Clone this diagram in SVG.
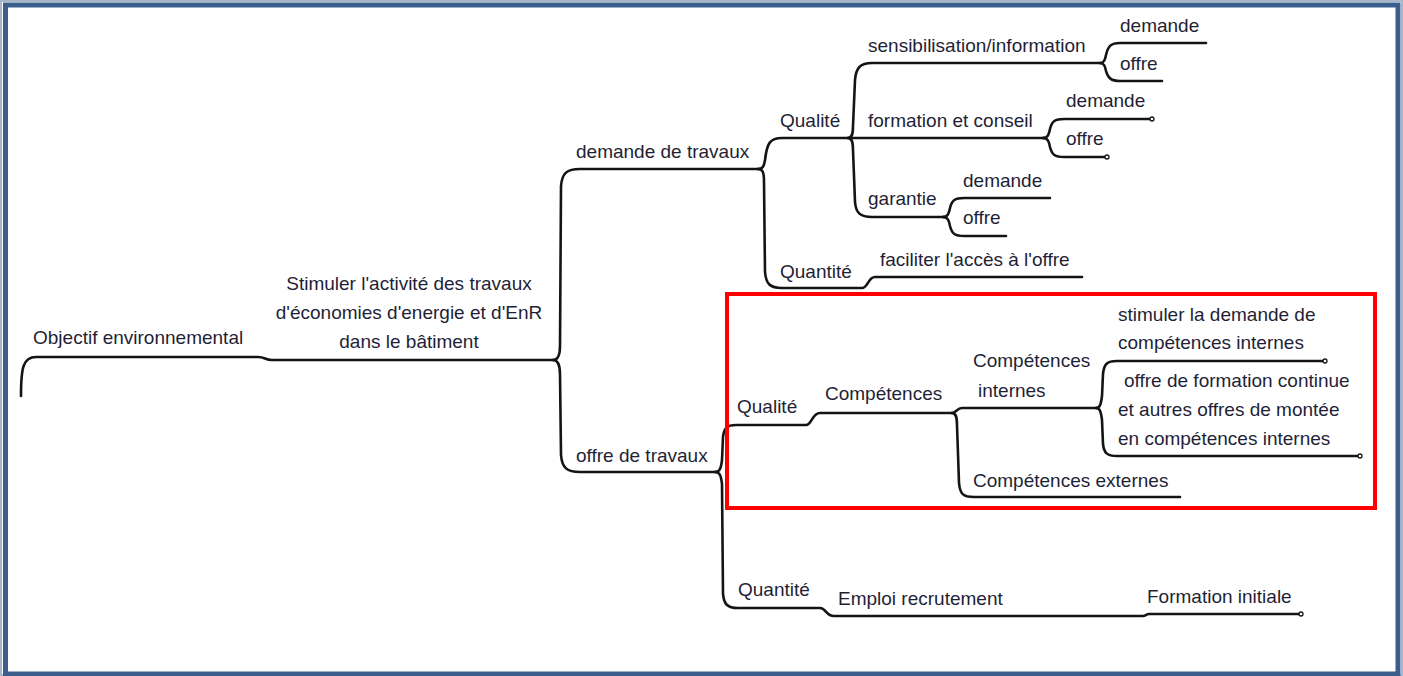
<svg xmlns="http://www.w3.org/2000/svg" width="1403" height="676" viewBox="0 0 1403 676">
<style>
.t{font-family:"Liberation Sans",Arial,sans-serif;font-size:19px;fill:#1f1f36}
.ln{fill:none;stroke:#141414;stroke-width:2.6;stroke-linecap:round;stroke-linejoin:round}
.end{fill:#fff;stroke:#141414;stroke-width:1.3}
</style>
<rect x="0" y="0" width="1403" height="676" fill="#ffffff"/>
<rect x="1" y="1" width="1401" height="674" fill="none" stroke="#a8b6ca" stroke-width="2"/>
<rect x="5.5" y="5" width="1392.5" height="669" fill="none" stroke="#3b5e8c" stroke-width="5"/>

<g id="connectors">
<path class="ln" d="M21,396 C21,368 23,357 36,357 L258,357 C265,357 265,360 272,360 L553,360"/>
<path class="ln" d="M553,360 C558,360 560,356 560,346 L561,186 C562,173 567,169 580,169 L760,169"/>
<path class="ln" d="M553,360 C558,360 560,364 560,374 L561,455 C562,468 567,472 580,472 L717,472"/>
<path class="ln" d="M758,169 C763,169 764,166 765,160 C767,143 770,138 782,138 L848,138"/>
<path class="ln" d="M758,169 C763,169 764,173 764,182 L765,272 C766,284 770,288 782,288 L862,288 C868,288 868,277 875,277 L1082,277"/>
<path class="ln" d="M848,138 C852,138 853,134 853,126 L855,80 C856,68 860,63 872,63 L1100,63"/>
<path class="ln" d="M848,138 L1045,138"/>
<path class="ln" d="M848,138 C852,138 853,142 853,150 L855,202 C856,213 860,217 872,217 L945,217"/>
<path class="ln" d="M1100,63 C1104,63 1105,60 1106,55 C1108,46 1111,43 1120,43 L1206,43"/>
<path class="ln" d="M1100,63 C1104,63 1105,66 1106,71 C1108,78 1111,81 1120,81 L1162,81"/>
<path class="ln" d="M1043,138 C1048,138 1049,134 1050,129 C1052,121 1055,119 1064,119 L1150,119"/>
<path class="ln" d="M1043,138 C1048,138 1049,142 1050,147 C1052,155 1055,157 1064,157 L1105,157"/>
<path class="ln" d="M943,217 C948,217 949,213 950,208 C952,200 955,198 964,198 L1050,198"/>
<path class="ln" d="M943,217 C948,217 949,221 950,226 C952,234 955,236 964,236 L1006,236"/>
<path class="ln" d="M715,472 C720,472 721,468 722,460 L723,437 C724,428 727,425 736,425 L806,425 C812,425 812,413 820,413 L952,413"/>
<path class="ln" d="M715,472 C720,472 721,476 722,484 L723,594 C724,604 727,608 738,608 L820,608 C826,608 826,616 834,616 L1143,616 C1146,616 1146,614 1149,614 L1299,614"/>
<path class="ln" d="M952,413 C956,413 957,408 962,408 L1098,408"/>
<path class="ln" d="M952,413 C956,413 957,417 957,425 L959,483 C960,494 963,497 974,497 L1180,497"/>
<path class="ln" d="M1096,408 C1100,408 1101,404 1102,396 L1103,374 C1104,364 1107,361 1117,361 L1323,361"/>
<path class="ln" d="M1096,408 C1100,408 1101,412 1102,420 L1103,444 C1104,453 1107,456 1117,456 L1358,456"/>
<circle class="end" cx="1152" cy="119" r="2"/>
<circle class="end" cx="1107" cy="157" r="2"/>
<circle class="end" cx="1325" cy="361" r="2"/>
<circle class="end" cx="1360" cy="456" r="2"/>
<circle class="end" cx="1301" cy="614" r="2"/>
</g>

<g id="n-objectif"><text class="t" x="33" y="344">Objectif environnemental</text></g>
<g id="n-stimuler"><text class="t" text-anchor="middle" x="409" y="290">Stimuler l'activité des travaux</text><text class="t" text-anchor="middle" x="409" y="319">d'économies d'energie et d'EnR</text><text class="t" text-anchor="middle" x="409" y="348">dans le bâtiment</text></g>
<g id="n-demande-travaux"><text class="t" x="576" y="158">demande de travaux</text></g>
<g id="n-offre-travaux"><text class="t" x="576" y="462">offre de travaux</text></g>
<g id="n-qualite-d"><text class="t" x="780" y="127">Qualité</text></g>
<g id="n-quantite-d"><text class="t" x="780" y="278">Quantité</text></g>
<g id="n-sensibilisation"><text class="t" x="868" y="52">sensibilisation/information</text></g>
<g id="n-formation-conseil"><text class="t" x="868" y="127">formation et conseil</text></g>
<g id="n-garantie"><text class="t" x="868" y="205">garantie</text></g>
<g id="n-sens-demande"><text class="t" x="1120" y="32">demande</text></g>
<g id="n-sens-offre"><text class="t" x="1120" y="70">offre</text></g>
<g id="n-form-demande"><text class="t" x="1066" y="107">demande</text></g>
<g id="n-form-offre"><text class="t" x="1066" y="145">offre</text></g>
<g id="n-gar-demande"><text class="t" x="963" y="187">demande</text></g>
<g id="n-gar-offre"><text class="t" x="963" y="224">offre</text></g>
<g id="n-faciliter"><text class="t" x="880" y="266">faciliter l'accès à l'offre</text></g>
<g id="n-qualite-o"><text class="t" x="737" y="413">Qualité</text></g>
<g id="n-competences"><text class="t" x="825" y="400">Compétences</text></g>
<g id="n-comp-internes"><text class="t" x="973" y="367">Compétences</text><text class="t" x="978" y="397">internes</text></g>
<g id="n-comp-externes"><text class="t" x="973" y="487">Compétences externes</text></g>
<g id="n-stimuler-demande"><text class="t" x="1118" y="321">stimuler la demande de</text><text class="t" x="1118" y="349">compétences internes</text></g>
<g id="n-offre-formation"><text class="t" x="1124" y="387">offre de formation continue</text><text class="t" x="1118" y="416">et autres offres de montée</text><text class="t" x="1118" y="445">en compétences internes</text></g>
<g id="n-quantite-o"><text class="t" x="738" y="596">Quantité</text></g>
<g id="n-emploi"><text class="t" x="838" y="605">Emploi recrutement</text></g>
<g id="n-formation-initiale"><text class="t" x="1147" y="603">Formation initiale</text></g>

<rect id="highlight" x="727" y="294" width="648" height="214" fill="none" stroke="#ff0000" stroke-width="4"/>
</svg>
